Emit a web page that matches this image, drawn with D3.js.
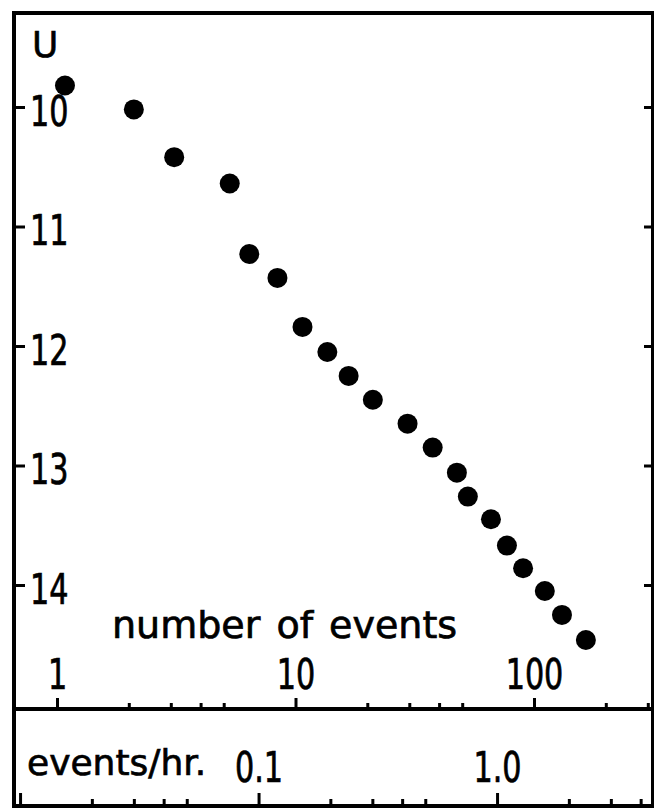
<!DOCTYPE html>
<html>
<head>
<meta charset="utf-8">
<script src="https://cdn.jsdelivr.net/npm/d3@7"></script>
<style>
  body { margin: 0; background: #fff; }
  svg { display: block; }
  .num { font-family: "DejaVu Sans Condensed", "DejaVu Sans", sans-serif; }
  .txt { font-family: "DejaVu Sans", sans-serif; }
</style>
</head>
<body>
<svg width="654" height="808"></svg>
<script>
// cumulative number of events vs. U
const nEvents = [1.08, 2.1, 3.1, 5.3, 6.4, 8.4, 10.7, 13.6, 16.7, 21.1, 29.5, 37.6, 47.5, 52.8, 66, 77, 90, 111, 131, 165];
const uValues = [9.82, 10.02, 10.42, 10.64, 11.23, 11.43, 11.84, 12.05, 12.25, 12.45, 12.65, 12.85, 13.06, 13.26, 13.45, 13.67, 13.86, 14.05, 14.25, 14.46];

const uTicks = [10, 11, 12, 13, 14];
const nMajor = [1, 10, 100];
const nMinor = [2, 3, 4, 5, 20, 30, 40, 50, 200, 300];
const hours = 70;  // observing time, events -> events/hr
const rateMajor = [0.01, 0.1, 1];
const rateLabels = [0.1, 1];
const rateMinor = [0.02, 0.03, 0.04, 0.05, 0.2, 0.3, 0.4, 0.5, 2, 3, 4];

const frameL = 14, frameR = 653, frameT = 13, axisY = 709, frameB = 806;

const svg = d3.select("svg");

const x = d3.scaleLog().domain([1, 100]).range([57, 534]);
const xRate = d3.scaleLog().domain([1 / hours, 100 / hours]).range([57, 534]);
const y = d3.scaleLinear().domain([10, 14]).range([107, 585]);

// frame
svg.append("rect")
  .attr("x", frameL).attr("y", frameT)
  .attr("width", frameR - frameL).attr("height", frameB - frameT)
  .attr("fill", "none").attr("stroke", "#000").attr("stroke-width", 4);

svg.append("line")
  .attr("x1", frameL).attr("x2", frameR)
  .attr("y1", axisY).attr("y2", axisY)
  .attr("stroke", "#000").attr("stroke-width", 4);

function styleAxis(g) {
  g.select(".domain").remove();
  g.selectAll(".tick line").attr("stroke", "#000").attr("stroke-width", 3);
  g.selectAll(".tick text").attr("fill", "#000")
    .attr("stroke", "#000").attr("stroke-width", 0.7)
    .attr("font-size", 42)
    .attr("transform", "scale(0.8,1)");
}

// number of events axis
svg.append("g")
  .attr("transform", "translate(0," + axisY + ")")
  .call(d3.axisTop(x).tickValues(nMinor).tickSize(6).tickFormat(""))
  .call(styleAxis);

svg.append("g")
  .attr("class", "num")
  .attr("transform", "translate(0," + axisY + ")")
  .call(d3.axisTop(x).tickValues(nMajor).tickSize(11).tickPadding(9).tickFormat(d3.format("d")))
  .call(styleAxis);

// events/hr axis
svg.append("g")
  .attr("transform", "translate(0," + frameB + ")")
  .call(d3.axisTop(xRate).tickValues(rateMinor).tickSize(7).tickFormat(""))
  .call(styleAxis);

svg.append("g")
  .attr("class", "num")
  .attr("transform", "translate(0," + frameB + ")")
  .call(d3.axisTop(xRate).tickValues(rateMajor).tickSize(13).tickPadding(11)
    .tickFormat(d => rateLabels.includes(d) ? d3.format(".1f")(d) : ""))
  .call(styleAxis);

// U axis
svg.append("g")
  .attr("class", "num")
  .attr("transform", "translate(" + frameL + ",0)")
  .call(d3.axisRight(y).tickValues(uTicks).tickSize(11).tickPadding(9).tickFormat(d3.format("d")))
  .call(styleAxis)
  .selectAll("text").attr("dy", "0.44em");

svg.append("g")
  .attr("transform", "translate(" + frameR + ",0)")
  .call(d3.axisLeft(y).tickValues(uTicks).tickSize(9).tickFormat(""))
  .call(styleAxis);

// labels
svg.append("text").attr("class", "txt")
  .attr("x", 32).attr("y", 57)
  .attr("font-size", 36).attr("stroke", "#000").attr("stroke-width", 0.6)
  .text("U");

svg.append("text").attr("class", "txt")
  .attr("x", 112).attr("y", 638)
  .attr("font-size", 38).attr("word-spacing", 4)
  .attr("stroke", "#000").attr("stroke-width", 0.7)
  .text("number of events");

svg.append("text").attr("class", "txt")
  .attr("x", 27).attr("y", 775)
  .attr("font-size", 36)
  .attr("stroke", "#000").attr("stroke-width", 0.7)
  .text("events/hr.");

// data points
svg.append("g")
  .selectAll("circle")
  .data(nEvents)
  .enter()
  .append("circle")
  .attr("cx", d => x(d))
  .attr("cy", (d, i) => y(uValues[i]))
  .attr("r", 10)
  .attr("fill", "#000");
</script>
</body>
</html>
